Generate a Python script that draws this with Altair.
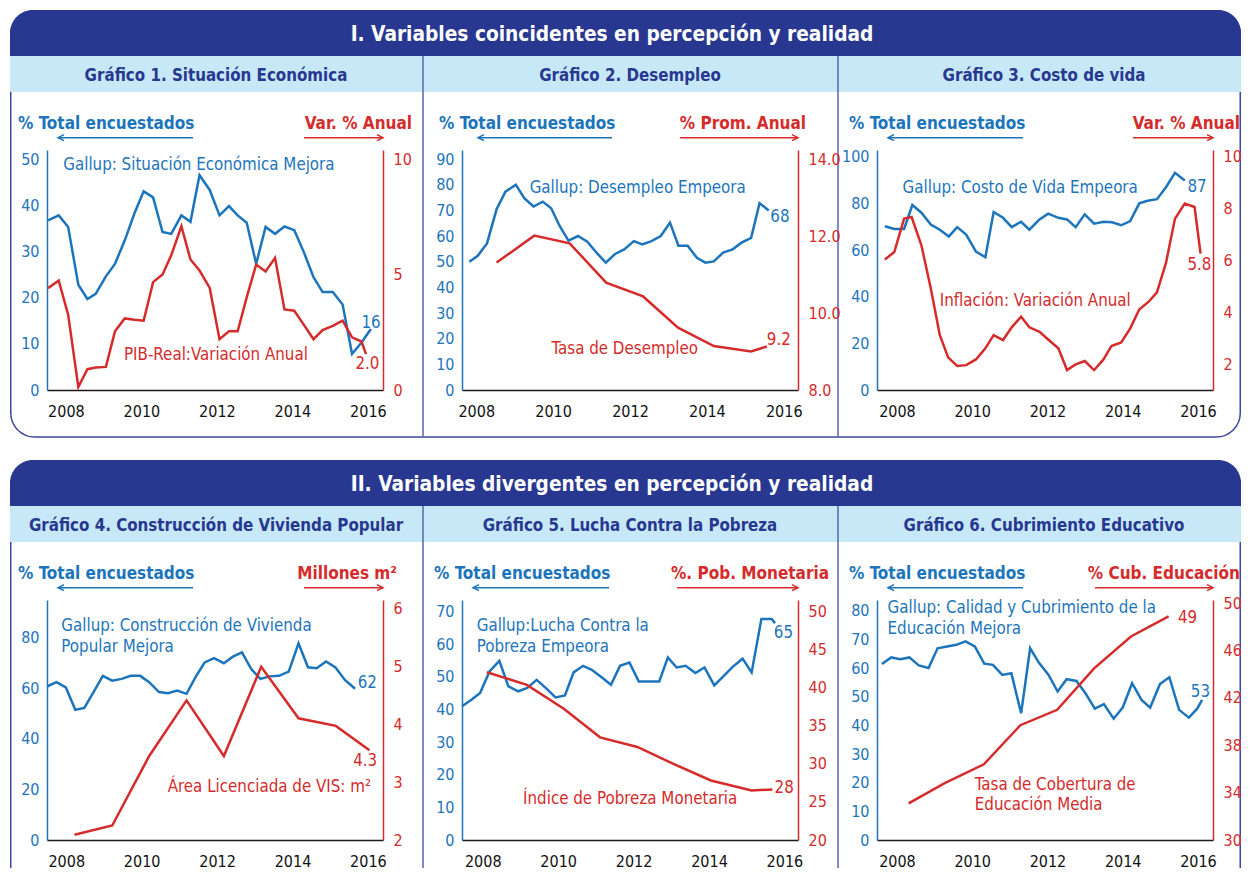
import altair as alt
import pandas as pd

# ---------------- data ----------------
year_ticks = [2008, 2010, 2012, 2014, 2016]

# Gráfico 1. Situación Económica
g1_gallup_x = [2007.53, 2007.81, 2008.06, 2008.33, 2008.57, 2008.79, 2009.06, 2009.30, 2009.56, 2009.82,
               2010.06, 2010.31, 2010.56, 2010.79, 2011.06, 2011.30, 2011.54, 2011.81, 2012.07, 2012.32,
               2012.55, 2012.79, 2013.04, 2013.29, 2013.54, 2013.79, 2014.05, 2014.30, 2014.56, 2014.80,
               2015.07, 2015.33, 2015.58, 2015.83, 2016.08]
g1_gallup_y = [36.7, 37.8, 35.3, 22.8, 19.7, 20.8, 24.6, 27.3, 32.4, 38.3, 43.0, 41.7, 34.2, 33.8, 37.8,
               36.4, 46.5, 43.3, 37.8, 39.8, 37.8, 36.2, 27.3, 35.3, 33.8, 35.4, 34.6, 29.9, 24.4, 21.2,
               21.2, 18.5, 7.8, 10.3, 13.2]
g1_pib_x = [2007.53, 2007.81, 2008.06, 2008.33, 2008.57, 2008.79, 2009.06, 2009.30, 2009.56, 2009.82,
            2010.06, 2010.31, 2010.56, 2010.79, 2011.06, 2011.30, 2011.54, 2011.81, 2012.07, 2012.32,
            2012.55, 2012.79, 2013.04, 2013.29, 2013.54, 2013.79, 2014.05, 2014.30, 2014.56, 2014.80,
            2015.07, 2015.33, 2015.58, 2015.83, 2015.95]
g1_pib_y = [4.41, 4.74, 3.26, 0.13, 0.90, 0.97, 1.00, 2.54, 3.10, 3.04, 3.00, 4.67, 5.00, 5.83, 7.09,
            5.65, 5.17, 4.42, 2.20, 2.54, 2.54, 4.01, 5.43, 5.13, 5.72, 3.49, 3.43, 2.83, 2.20, 2.59,
            2.78, 3.00, 2.28, 2.10, 1.55]

# Gráfico 2. Desempleo
g2_gallup_x = [2007.82, 2008.04, 2008.28, 2008.53, 2008.76, 2009.03, 2009.25, 2009.49, 2009.73, 2009.95,
               2010.17, 2010.40, 2010.65, 2010.89, 2011.13, 2011.37, 2011.61, 2011.85, 2012.10, 2012.32,
               2012.56, 2012.80, 2013.04, 2013.26, 2013.50, 2013.74, 2013.96, 2014.18, 2014.42, 2014.67,
               2014.90, 2015.15, 2015.37, 2015.61]
g2_gallup_y = [50.0, 52.3, 57.1, 70.4, 77.3, 80.0, 74.7, 71.5, 73.4, 70.8, 63.9, 58.2, 60.0, 57.8, 53.5,
               49.6, 53.0, 54.8, 58.0, 56.7, 58.0, 60.0, 65.2, 56.2, 56.2, 51.5, 49.6, 50.1, 53.5, 54.8,
               57.4, 59.3, 72.8, 69.9]
g2_tasa_x = [2008.53, 2009.51, 2010.43, 2011.38, 2012.34, 2013.25, 2014.18, 2015.15, 2015.56]
g2_tasa_y = [11.31, 12.01, 11.81, 10.79, 10.43, 9.62, 9.14, 9.00, 9.13]

# Gráfico 3. Costo de vida
g3_gallup_x = [2007.68, 2007.93, 2008.19, 2008.41, 2008.65, 2008.90, 2009.14, 2009.38, 2009.60, 2009.84,
               2010.10, 2010.35, 2010.57, 2010.82, 2011.05, 2011.30, 2011.52, 2011.79, 2012.02, 2012.29,
               2012.52, 2012.75, 2012.99, 2013.24, 2013.49, 2013.72, 2013.96, 2014.20, 2014.44, 2014.66,
               2014.91, 2015.15, 2015.39, 2015.65]
g3_gallup_y = [70.3, 69.1, 69.1, 79.4, 76.1, 71.0, 68.8, 65.9, 69.9, 66.7, 59.4, 57.0, 76.4, 73.9, 69.9,
               72.2, 68.8, 73.2, 75.7, 73.9, 73.2, 69.9, 75.4, 71.4, 72.2, 72.0, 70.7, 72.5, 80.1, 81.2,
               81.9, 87.0, 93.2, 89.9]
g3_infl_x = [2007.68, 2007.93, 2008.19, 2008.39, 2008.65, 2008.90, 2009.14, 2009.36, 2009.60, 2009.84,
             2010.10, 2010.35, 2010.57, 2010.82, 2011.05, 2011.30, 2011.52, 2011.79, 2012.02, 2012.29,
             2012.52, 2012.75, 2012.99, 2013.24, 2013.49, 2013.70, 2013.96, 2014.20, 2014.44, 2014.69,
             2014.91, 2015.15, 2015.39, 2015.65, 2015.91, 2016.07]
g3_infl_y = [6.04, 6.33, 7.62, 7.68, 6.59, 4.92, 3.12, 2.26, 1.93, 1.96, 2.18, 2.61, 3.12, 2.93, 3.42,
             3.83, 3.42, 3.25, 2.95, 2.61, 1.77, 1.99, 2.12, 1.77, 2.18, 2.70, 2.84, 3.38, 4.11, 4.41,
             4.77, 5.91, 7.62, 8.20, 8.07, 6.27]

# Gráfico 4. Construcción de Vivienda Popular
g4_gallup_x = [2007.49, 2007.74, 2007.99, 2008.24, 2008.48, 2008.72, 2008.97, 2009.22, 2009.47, 2009.71,
               2009.96, 2010.20, 2010.46, 2010.70, 2010.94, 2011.19, 2011.44, 2011.67, 2011.92, 2012.18,
               2012.42, 2012.66, 2012.91, 2013.15, 2013.39, 2013.64, 2013.90, 2014.16, 2014.41, 2014.64,
               2014.89, 2015.14, 2015.39, 2015.66]
g4_gallup_y = [60.7, 62.4, 60.3, 51.5, 52.2, 58.4, 64.9, 63.0, 63.7, 64.9, 64.9, 62.4, 58.5, 58.0, 59.1,
               57.8, 64.7, 70.2, 71.9, 69.9, 72.5, 74.2, 67.5, 63.7, 64.7, 64.9, 66.6, 77.8, 68.3, 67.9,
               70.6, 68.2, 63.3, 59.8]
g4_area_x = [2008.22, 2009.22, 2010.20, 2011.19, 2012.18, 2013.17, 2014.16, 2015.15, 2016.04]
g4_area_y = [2.09, 2.25, 3.45, 4.41, 3.45, 4.99, 4.10, 3.97, 3.55]

# Gráfico 5. Lucha Contra la Pobreza
g5_gallup_x = [2007.45, 2007.70, 2007.93, 2008.18, 2008.44, 2008.68, 2008.94, 2009.18, 2009.43, 2009.69,
               2009.93, 2010.18, 2010.41, 2010.66, 2010.89, 2011.16, 2011.40, 2011.64, 2011.89, 2012.14,
               2012.39, 2012.68, 2012.91, 2013.14, 2013.38, 2013.64, 2013.88, 2014.14, 2014.38, 2014.62,
               2014.89, 2015.13, 2015.39, 2015.66, 2015.75]
g5_gallup_y = [41.0, 43.0, 45.1, 51.7, 54.9, 47.1, 45.6, 46.6, 49.1, 46.4, 43.7, 44.3, 51.4, 53.4, 52.2,
               49.8, 47.6, 53.4, 54.4, 48.6, 48.6, 48.6, 56.0, 52.9, 53.4, 51.2, 52.9, 47.4, 50.2, 53.0,
               55.6, 51.4, 67.8, 67.8, 66.5]
g5_pobreza_x = [2008.11, 2009.17, 2010.15, 2011.11, 2012.10, 2013.04, 2014.05, 2015.13, 2015.68]
g5_pobreza_y = [42.05, 40.39, 37.25, 33.49, 32.23, 30.04, 27.82, 26.51, 26.64]

# Gráfico 6. Cubrimiento Educativo
g6_gallup_x = [2007.60, 2007.85, 2008.09, 2008.33, 2008.58, 2008.84, 2009.08, 2009.33, 2009.58, 2009.82,
               2010.07, 2010.32, 2010.55, 2010.80, 2011.04, 2011.30, 2011.54, 2011.78, 2012.03, 2012.27,
               2012.51, 2012.77, 2013.01, 2013.26, 2013.50, 2013.76, 2014.00, 2014.25, 2014.50, 2014.73,
               2014.99, 2015.24, 2015.50, 2015.76, 2015.98, 2016.11]
g6_gallup_y = [61.4, 63.7, 63.1, 63.7, 60.9, 60.0, 66.9, 67.5, 68.1, 69.3, 67.5, 61.5, 61.1, 57.6, 58.2,
               44.2, 66.9, 61.7, 57.6, 51.8, 56.1, 55.5, 51.2, 45.8, 47.4, 42.3, 46.2, 54.7, 48.9, 46.2,
               54.4, 56.8, 45.4, 42.7, 45.8, 48.9]
g6_cob_x = [2008.31, 2009.27, 2010.31, 2011.28, 2012.26, 2013.24, 2014.22, 2015.22]
g6_cob_y = [33.1, 34.8, 36.4, 39.7, 41.0, 44.5, 47.2, 48.9]

# ---------------- texts ----------------
section_titles = ["I. Variables coincidentes en percepción y realidad",
                  "II. Variables divergentes en percepción y realidad"]
left_title = "% Total encuestados"

# ---------------- styles / layout ----------------
BLUE = "#1C75BC"
RED = "#D52B2B"
NAVY = "#283891"
STRIP = "#C6E8F7"
BORDER = "#3C489E"
DIVIDER = "#5A64AE"
FONT = "DejaVu Sans Condensed"
DY = 2                   # small downward nudge of text to match the reference

W, H = 336, 240          # plot area of every panel
SC, SR = 79, 210         # spacing between plot areas
X0, Y0 = 47, 150         # page position of the first plot area
RIGHT = 1241             # right edge of the boxes (page coords)

panels = [
    dict(head="Gráfico 1. Situación Económica", hx=216,
         bx=g1_gallup_x, by=g1_gallup_y, rx_=g1_pib_x, ry_=g1_pib_y,
         xdom=[2007.5, 2016.4], bdom=[0, 51.95], bticks=[0, 10, 20, 30, 40, 50],
         rdom=[0, 10.39], rticks=[0, 5, 10], rfmt="d",
         rtitle="Var. % Anual", ltx=-29, la=(11, 146), rtx=29, ra=-79,
         btxt=[("Gallup: Situación Económica Mejora", 2007.93, 49.2), ("16", 2015.83, 14.9)],
         rtxt=[("PIB-Real:Variación Anual", 2009.54, 1.62), ("2.0", 2015.67, 1.23)]),
    dict(head="Gráfico 2. Desempleo", hx=630,
         bx=g2_gallup_x, by=g2_gallup_y, rx_=g2_tasa_x, ry_=g2_tasa_y,
         xdom=[2007.63, 2016.37], bdom=[0, 93.51], bticks=list(range(0, 91, 10)),
         rdom=[8, 14.234], rticks=[8, 10, 12, 14], rfmt=".1f",
         rtitle="% Prom. Anual", ltx=-23, la=(16, 150), rtx=8, ra=-118,
         btxt=[("Gallup: Desempleo Empeora", 2009.39, 79.6), ("68", 2015.65, 68.2)],
         rtxt=[("Tasa de Desempleo", 2009.96, 9.11), ("9.2", 2015.56, 9.36)]),
    dict(head="Gráfico 3. Costo de vida", hx=1044,
         bx=g3_gallup_x, by=g3_gallup_y, rx_=g3_infl_x, ry_=g3_infl_y,
         xdom=[2007.47, 2016.4], bdom=[0, 103.0], bticks=[0, 20, 40, 60, 80, 100],
         rdom=[1, 10.27], rticks=[2, 4, 6, 8, 10], rfmt="d",
         rtitle="Var. % Anual", ltx=-28, la=(11, 146), rtx=27, ra=-80,
         btxt=[("Gallup: Costo de Vida Empeora", 2008.15, 87.4), ("87", 2015.72, 88.1)],
         rtxt=[("Inflación: Variación Anual", 2009.14, 4.53), ("5.8", 2015.72, 5.92)]),
    dict(head="Gráfico 4. Construcción de Vivienda Popular", hx=216,
         bx=g4_gallup_x, by=g4_gallup_y, rx_=g4_area_x, ry_=g4_area_y,
         xdom=[2007.49, 2016.4], bdom=[0, 94.9], bticks=[0, 20, 40, 60, 80],
         rdom=[2, 6.143], rticks=[2, 3, 4, 5, 6], rfmt="d",
         rtitle="Millones m²", ltx=-29, la=(11, 146), rtx=14, ra=-79,
         btxt=[("Gallup: Construcción de Vivienda", 2007.87, 85.4), ("Popular Mejora", 2007.87, 77.1),
               ("62", 2015.73, 63.0)],
         rtxt=[("Área Licenciada de VIS: m²", 2010.69, 2.95), ("4.3", 2015.61, 3.39)]),
    dict(head="Gráfico 5. Lucha Contra la Pobreza", hx=630,
         bx=g5_gallup_x, by=g5_gallup_y, rx_=g5_pobreza_x, ry_=g5_pobreza_y,
         xdom=[2007.45, 2016.36], bdom=[0, 73.59], bticks=list(range(0, 71, 10)),
         rdom=[20, 51.54], rticks=[20, 25, 30, 35, 40, 45, 50], rfmt="d",
         rtitle="%. Pob. Monetaria", ltx=-28, la=(11, 147), rtx=31, ra=-121,
         btxt=[("Gallup:Lucha Contra la", 2007.84, 66.3), ("Pobreza Empeora", 2007.84, 59.8),
               ("65", 2015.72, 64.2)],
         rtxt=[("Índice de Pobreza Monetaria", 2009.07, 25.68), ("28", 2015.74, 27.07)]),
    dict(head="Gráfico 6. Cubrimiento Educativo", hx=1044,
         bx=g6_gallup_x, by=g6_gallup_y, rx_=g6_cob_x, ry_=g6_cob_y,
         xdom=[2007.47, 2016.4], bdom=[0, 83.73], bticks=list(range(0, 81, 10)),
         rdom=[30, 50.28], rticks=[30, 34, 38, 42, 46, 50], rfmt="d",
         rtitle="% Cub. Educación", ltx=-28, la=(11, 146), rtx=27, ra=-118,
         btxt=[("Gallup: Calidad y Cubrimiento de la", 2007.75, 81.5), ("Educación Mejora", 2007.75, 74.3),
               ("53", 2015.81, 52.4)],
         rtxt=[("Tasa de Cobertura de", 2010.07, 34.8), ("Educación Media", 2010.07, 33.1),
               ("49", 2015.47, 48.9)]),
]

one = pd.DataFrame({"k": [0]})


def txt(x, y, s, color, size=16.8, bold=False, align="left"):
    kw = dict(align=align, baseline="middle", font=FONT, fontSize=size, color=color, dy=DY)
    if bold:
        kw["fontWeight"] = "bold"
    return alt.Chart(one).mark_text(**kw).encode(x=alt.value(x), y=alt.value(y), text=alt.value(s))


def hline(x1, x2, y, color, w=1.5):
    return alt.Chart(one).mark_rule(color=color, strokeWidth=w).encode(
        x=alt.value(x1), x2=alt.value(x2), y=alt.value(y))


def vline(x, y1, y2, color, w=1.5):
    return alt.Chart(one).mark_rule(color=color, strokeWidth=w).encode(
        x=alt.value(x), y=alt.value(y1), y2=alt.value(y2))


def head(x, y, color, left=True):
    shape = "M1,-1L-1,0L1,1" if left else "M-1,-1L1,0L-1,1"
    return alt.Chart(one).mark_point(shape=shape, filled=False, color=color, strokeWidth=1.5,
                                     size=36, opacity=1).encode(x=alt.value(x), y=alt.value(y))


def build(spec, r, c):
    ox = X0 + c * (W + SC)
    oy = Y0 + r * (H + SR)
    ax = lambda a: a - ox
    ay = lambda a: a - oy
    bt = 10 + r * 450          # banner top (page coords)
    bottom = 437 if r == 0 else 868
    layers = []
    if c == 0:
        if r == 0:
            layers.append(alt.Chart(one).mark_rect(fillOpacity=0, stroke=BORDER, strokeWidth=1.5,
                                                   cornerRadius=24).encode(
                x=alt.value(ax(10.75)), x2=alt.value(ax(RIGHT - 0.75)),
                y=alt.value(ay(10.75)), y2=alt.value(ay(437))))
        else:
            layers.append(vline(ax(10.75), ay(480), ay(868), BORDER))
            layers.append(vline(ax(RIGHT - 0.75), ay(480), ay(868), BORDER))
        layers.append(alt.Chart(one).mark_rect(color=NAVY, cornerRadiusTopLeft=25,
                                               cornerRadiusTopRight=25).encode(
            x=alt.value(ax(10)), x2=alt.value(ax(RIGHT)), y=alt.value(ay(bt)), y2=alt.value(ay(bt + 46))))
        layers.append(alt.Chart(one).mark_rect(color=STRIP).encode(
            x=alt.value(ax(10)), x2=alt.value(ax(RIGHT)), y=alt.value(ay(bt + 46)), y2=alt.value(ay(bt + 82))))
        layers.append(vline(ax(423), ay(bt + 46), ay(bottom), DIVIDER))
        layers.append(vline(ax(838), ay(bt + 46), ay(bottom), DIVIDER))
        layers.append(txt(ax(612), ay(bt + 23), section_titles[r], "white", size=20.7, bold=True,
                          align="center"))
    # panel heading
    layers.append(txt(ax(spec["hx"]), ay(bt + 64), spec["head"], NAVY, size=16.8, bold=True, align="center"))
    # axis titles with arrows
    layers.append(txt(spec["ltx"], -28, left_title, BLUE, size=17, bold=True))
    layers.append(hline(spec["la"][0], spec["la"][1], -12.3, BLUE))
    layers.append(head(spec["la"][0] + 3, -12.3, BLUE, left=True))
    layers.append(txt(W + spec["rtx"], -28, spec["rtitle"], RED, size=17, bold=True, align="right"))
    layers.append(hline(W + spec["ra"], W, -12.3, RED))
    layers.append(head(W - 3, -12.3, RED, left=False))

    xenc = alt.X("x:Q", scale=alt.Scale(domain=spec["xdom"], nice=False, zero=False),
                 axis=alt.Axis(values=year_ticks, format="d", ticks=False, grid=False,
                               domainColor="#1A1A1A", domainWidth=1.5, labelColor="#111111",
                               labelFont=FONT, labelFontSize=16, labelPadding=13, labelFlush=False,
                               labelOverlap=False, title=None))
    bscale = alt.Scale(domain=spec["bdom"], nice=False, zero=False)
    rscale = alt.Scale(domain=spec["rdom"], nice=False, zero=False)
    baxis = alt.Axis(orient="left", values=spec["bticks"], format="d", ticks=False, grid=False,
                     domainColor=BLUE, domainWidth=1.5, labelColor=BLUE, labelFont=FONT,
                     labelFontSize=16, labelPadding=8, labelFlush=False, labelOverlap=False,
                     title=None)
    raxis = alt.Axis(orient="right", values=spec["rticks"], format=spec["rfmt"], ticks=False,
                     grid=False, domainColor=RED, domainWidth=1.5, labelColor=RED,
                     labelFont=FONT, labelFontSize=16, labelPadding=10, labelFlush=False,
                     labelOverlap=False, title=None)

    bdf = pd.DataFrame({"x": spec["bx"], "y": spec["by"]})
    rdf = pd.DataFrame({"x": spec["rx_"], "y": spec["ry_"]})
    btdf = pd.DataFrame(spec["btxt"], columns=["t", "x", "y"])
    rtdf = pd.DataFrame(spec["rtxt"], columns=["t", "x", "y"])

    blue_line = alt.Chart(bdf).mark_line(color=BLUE, strokeWidth=2.5).encode(
        x=xenc, y=alt.Y("y:Q", scale=bscale, axis=baxis))
    blue_txt = alt.Chart(btdf).mark_text(align="left", baseline="middle", font=FONT, fontSize=16.8,
                                         color=BLUE, dy=DY).encode(
        x=xenc, y=alt.Y("y:Q", scale=bscale, axis=baxis), text="t:N")
    red_line = alt.Chart(rdf).mark_line(color=RED, strokeWidth=2.5).encode(
        x=xenc, y=alt.Y("y:Q", scale=rscale, axis=raxis))
    red_txt = alt.Chart(rtdf).mark_text(align="left", baseline="middle", font=FONT, fontSize=16.8,
                                        color=RED, dy=DY).encode(
        x=xenc, y=alt.Y("y:Q", scale=rscale, axis=raxis), text="t:N")

    blue = alt.layer(blue_line, blue_txt)
    red = alt.layer(red_line, red_txt)
    return alt.layer(*layers, blue, red).resolve_scale(y="independent").properties(width=W, height=H)


charts = [build(p, i // 3, i % 3) for i, p in enumerate(panels)]

chart = alt.concat(*charts, columns=3, spacing={"row": SR, "column": SC}, bounds="flush").resolve_scale(
    x="independent", y="independent").properties(
    padding={"left": 2, "top": 2, "right": 0, "bottom": 0}, background="white"
).configure_view(stroke=None)

chart.save("out.html", embed_options={"renderer": "svg", "actions": False})
